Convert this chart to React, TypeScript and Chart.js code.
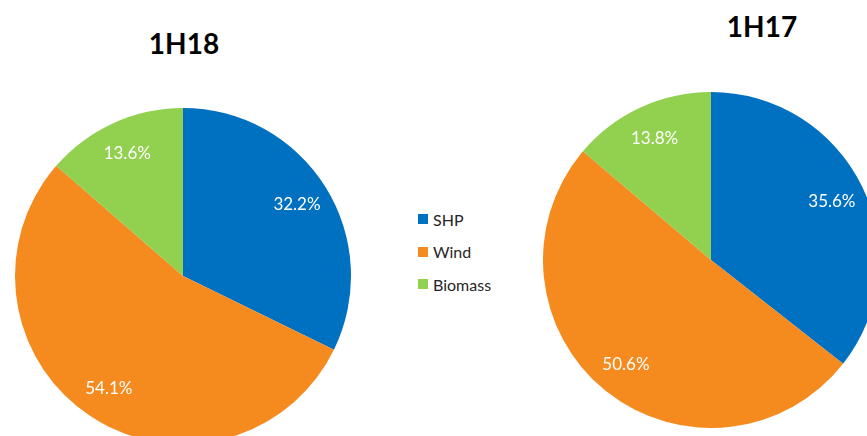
import React, { useEffect, useRef } from "react";
import { Chart, registerables } from "chart.js";

Chart.register(...registerables);

const categories = ["SHP", "Wind", "Biomass"];
const colors = ["#0070C0", "#F58A1F", "#92D050"];
const values1H18 = [32.2, 54.1, 13.6];
const values1H17 = [35.6, 50.6, 13.8];
const titles = ["1H18", "1H17"];

const labelPlugin = {
  id: "pctLabels",
  afterDatasetsDraw(chart: any) {
    const ctx = chart.ctx;
    const meta = chart.getDatasetMeta(0);
    const data = chart.data.datasets[0].data as number[];
    ctx.save();
    ctx.fillStyle = "#ffffff";
    ctx.font = "17px Lato, 'Open Sans', sans-serif";
    ctx.textAlign = "center";
    ctx.textBaseline = "middle";
    meta.data.forEach((arc: any, i: number) => {
      const p = arc.getProps(["x", "y", "startAngle", "endAngle", "outerRadius"], true);
      const mid = (p.startAngle + p.endAngle) / 2;
      const r = p.outerRadius * 0.8;
      ctx.fillText(data[i].toFixed(1) + "%", p.x + Math.cos(mid) * r, p.y + Math.sin(mid) * r);
    });
    ctx.restore();
  },
};

function PieCanvas({ values, style }: { values: number[]; style: React.CSSProperties }) {
  const ref = useRef<HTMLCanvasElement | null>(null);
  useEffect(() => {
    if (!ref.current) return;
    const chart = new Chart(ref.current, {
      type: "pie",
      data: {
        labels: categories,
        datasets: [
          {
            data: values,
            backgroundColor: colors,
            borderWidth: 0,
          },
        ],
      },
      options: {
        responsive: false,
        animation: false,
        layout: { padding: 0 },
        plugins: {
          legend: { display: false },
          title: { display: false },
          tooltip: { enabled: false },
        },
      },
      plugins: [labelPlugin],
    });
    return () => chart.destroy();
  }, [values]);
  return <canvas ref={ref} width={336} height={336} style={{ position: "absolute", ...style }} />;
}

const titleStyle: React.CSSProperties = {
  position: "absolute",
  fontFamily: "Lato, 'Open Sans', sans-serif",
  fontWeight: 700,
  fontSize: 28,
  color: "#000",
  lineHeight: "28px",
  transform: "translateX(-50%)",
  whiteSpace: "nowrap",
};

export default function App() {
  return (
    <div
      style={{
        position: "fixed",
        left: 0,
        top: 0,
        width: 867,
        height: 436,
        overflow: "hidden",
        background: "#ffffff",
      }}
    >
      <PieCanvas values={values1H18} style={{ left: 15, top: 108, width: 336, height: 336 }} />
      <PieCanvas values={values1H17} style={{ left: 543, top: 92, width: 336, height: 336 }} />
      <div style={{ ...titleStyle, left: 184, top: 29 }}>{titles[0]}</div>
      <div style={{ ...titleStyle, left: 762, top: 12 }}>{titles[1]}</div>
      <div style={{ position: "absolute", left: 418, top: 209 }}>
        {categories.map((c, i) => (
          <div
            key={c}
            style={{
              display: "flex",
              alignItems: "center",
              height: 20,
              marginBottom: 12.5,
              fontFamily: "Lato, 'Open Sans', sans-serif",
              fontSize: 16,
              color: "#262626",
            }}
          >
            <span style={{ display: "inline-block", width: 10, height: 10, background: colors[i], marginRight: 5 }} />
            <span>{c}</span>
          </div>
        ))}
      </div>
    </div>
  );
}
